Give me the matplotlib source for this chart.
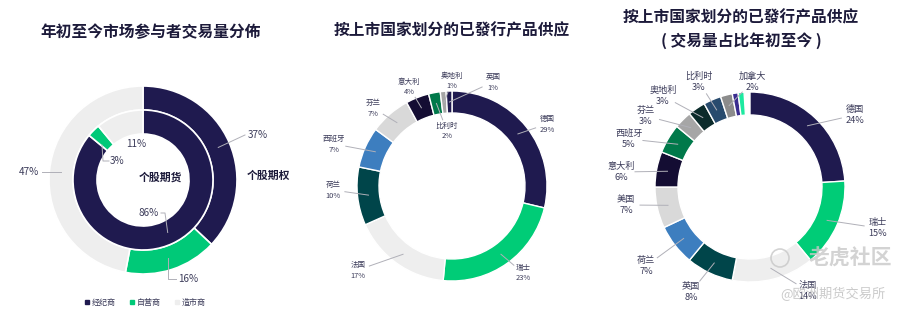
import matplotlib
matplotlib.use('Agg')
import matplotlib.pyplot as plt
import numpy as np
from matplotlib.lines import Line2D

plt.rcParams['font.family'] = ['Noto Sans CJK SC', 'DejaVu Sans']

# ---------------- data ----------------
participants = ['经纪商', '自营商', '造市商']
options_share = [37, 16, 47]    # 个股期权 (outer ring)
futures_share = [86, 3, 11]     # 个股期货 (inner ring)

supply_countries = ['德国', '瑞士', '法国', '荷兰', '西班牙', '芬兰', '意大利', '比利时', '奥地利', '英国']
supply_share = [29, 23, 17, 10, 7, 7, 4, 2, 1, 1]

volume_countries = ['德国', '瑞士', '法国', '英国', '荷兰', '美国', '意大利', '西班牙', '芬兰', '奥地利',
                    '比利时', '加拿大', None, None]
volume_share = [24, 15, 14, 8, 7, 7, 6, 5, 3, 3, 3, 2, 1, 1]

titles = ['年初至今市场参与者交易量分佈',
          '按上市国家划分的已發行产品供应',
          '按上市国家划分的已發行产品供应\n( 交易量占比年初至今 )']

# ---------------- style ----------------
participant_colors = ['#1f1a4f', '#00c978', '#eeeeee']
supply_colors = ['#1f1a4f', '#00cc77', '#eeeeee', '#00454a', '#3d7ebf', '#d9d9d9',
                 '#140d33', '#00794a', '#a6a6a6', '#1f1a4f']
volume_colors = ['#1f1a4f', '#00cc77', '#eeeeee', '#00454a', '#3d7ebf', '#d9d9d9',
                 '#140d33', '#00794a', '#a6a6a6', '#0b2b2b', '#284b6e', '#8c8c8c',
                 '#3a2d8f', '#1de9a0']
TITLE_C = '#1c1a3a'
LABEL_C = '#3c3c5a'
LINE_C = '#b0b0b8'

W, H = 913, 313
fig = plt.figure(figsize=(W / 100, H / 100), dpi=100)
ax = fig.add_axes([0, 0, 1, 1])


def Y(y):
    return H - y


def ring(values, colors, cx, cy, r, width, normalize=True, lw=1.0):
    wedges, _ = ax.pie(values, colors=colors, startangle=90, counterclock=False,
                       radius=r, center=(cx, Y(cy)), normalize=normalize,
                       wedgeprops=dict(width=width, edgecolor='white', linewidth=lw))
    return wedges


def mid_point(w, rm):
    a = np.deg2rad((w.theta1 + w.theta2) / 2)
    cx, cy = w.center
    return cx + rm * np.cos(a), cy + rm * np.sin(a)


def leader(p_wedge, p_label, gap):
    x0, y0 = p_wedge
    x1, y1 = p_label
    d = np.hypot(x1 - x0, y1 - y0)
    if d <= gap:
        return
    ex = x1 + (x0 - x1) * gap / d
    ey = y1 + (y0 - y1) * gap / d
    ax.plot([x0, ex], [y0, ey], color=LINE_C, lw=0.7, zorder=3)


# ---------------- chart 1 ----------------
c1x, c1y = 143, 180
outer = ring(options_share, participant_colors, c1x, c1y, 94, 24, lw=1.2)
inner = ring(futures_share, participant_colors, c1x, c1y, 70, 24, lw=1.2)

fs1 = 7.2
# outer labels
p = mid_point(outer[0], 82)
ax.plot([p[0], 245], [p[1], Y(135)], color=LINE_C, lw=0.7)
ax.text(248, Y(135), f'{options_share[0]}%', fontsize=fs1, color=LABEL_C, va='center', ha='left')
p = mid_point(outer[1], 82)
ax.plot([p[0], p[0], 176], [p[1], Y(279), Y(279)], color=LINE_C, lw=0.7)
ax.text(178, Y(279), f'{options_share[1]}%', fontsize=fs1, color=LABEL_C, va='center', ha='left')
p = mid_point(outer[2], 82)
ax.plot([p[0], 42], [p[1], p[1]], color=LINE_C, lw=0.7)
ax.text(39, p[1], f'{options_share[2]}%', fontsize=fs1, color=LABEL_C, va='center', ha='right')
# inner labels
p = mid_point(inner[0], 58)
ax.plot([p[0], 165, 161], [p[1], Y(213), Y(213)], color=LINE_C, lw=0.7)
ax.text(159, Y(213), f'{futures_share[0]}%', fontsize=fs1, color=LABEL_C, va='center', ha='right')
p = mid_point(inner[1], 58)
ax.plot([p[0], 103, 109], [p[1] - 6, Y(161), Y(161)], color=LINE_C, lw=0.7)
ax.text(110, Y(161), f'{futures_share[1]}%', fontsize=fs1, color=LABEL_C, va='center', ha='left')
ax.text(136, Y(144), f'{futures_share[2]}%', fontsize=fs1, color=LABEL_C, va='center', ha='center')

ax.text(160, Y(177), '个股期货', fontsize=7.8, fontweight='bold', color=TITLE_C, ha='center', va='center')
ax.text(268, Y(176), '个股期权', fontsize=7.8, fontweight='bold', color=TITLE_C, ha='center', va='center')

handles = [Line2D([], [], marker='s', linestyle='none', markersize=3,
                  markerfacecolor=c, markeredgecolor=c) for c in participant_colors]
fig.legend(handles, participants, loc='center', bbox_to_anchor=(145 / W, 1 - 302 / H),
           ncol=3, frameon=False, fontsize=5.8, handlelength=0.6, handletextpad=0.3,
           columnspacing=1.7, labelcolor=LABEL_C)

# ---------------- chart 2 ----------------
c2x, c2y = 452, 186
w2 = ring(supply_share, supply_colors, c2x, c2y, 95, 22)
pos2 = [(547, 124), (523, 273), (358, 270), (333, 190), (334, 144), (373, 108),
        (409, 87), (447, 131), (452, 81), (493, 82)]
for w, name, v, (lx, ly) in zip(w2, supply_countries, supply_share, pos2):
    p = mid_point(w, 84)
    leader(p, (lx, Y(ly)), 12)
    ax.text(lx, Y(ly), f'{name}\n{v}%', fontsize=5.4, color=LABEL_C, ha='center', va='center',
            linespacing=1.5, zorder=4)

# ---------------- chart 3 ----------------
c3x, c3y = 750, 187
w3 = ring([v / 100 for v in volume_share], volume_colors, c3x, c3y, 95, 23, normalize=False)
pos3 = [(855, 115), (878, 228), (808, 291), (691, 292), (646, 266), (626, 205),
        (621, 172), (629, 139), (646, 116), (663, 96), (699, 82), (752, 82)]
for w, name, v, lp in zip(w3, volume_countries, volume_share, pos3 + [None] * 5):
    if name is None:
        continue
    lx, ly = lp
    p = mid_point(w, 84)
    leader(p, (lx, Y(ly)), 14)
    ax.text(lx, Y(ly), f'{name}\n{v}%', fontsize=6.6, color=LABEL_C, ha='center', va='center',
            linespacing=1.35, zorder=4)

# ---------------- titles ----------------
ax.text(151, Y(32), titles[0], fontsize=11.3, fontweight='bold', color=TITLE_C, ha='center', va='center')
ax.text(452, Y(30), titles[1], fontsize=11.3, fontweight='bold', color=TITLE_C, ha='center', va='center')
ax.text(741, Y(29), titles[2], fontsize=11.3, fontweight='bold', color=TITLE_C, ha='center', va='center',
        linespacing=1.45)

# watermark
ax.text(850, Y(258), '老虎社区', fontsize=15, color='#c8c8c8', alpha=0.8, ha='center', va='center',
        fontweight='bold', zorder=5)
ax.add_patch(plt.Circle((780, Y(258)), 9, fill=False, ec='#c8c8c8', lw=1.2, alpha=0.8, zorder=5))
ax.text(833, Y(294), '@欧洲期货交易所', fontsize=9.5, color='#bdbdbd', alpha=0.8, ha='center',
        va='center', zorder=5)

ax.set_xlim(0, W)
ax.set_ylim(0, H)
ax.set_aspect('equal')
ax.axis('off')
fig.savefig('out.png', dpi=100, facecolor='white')
